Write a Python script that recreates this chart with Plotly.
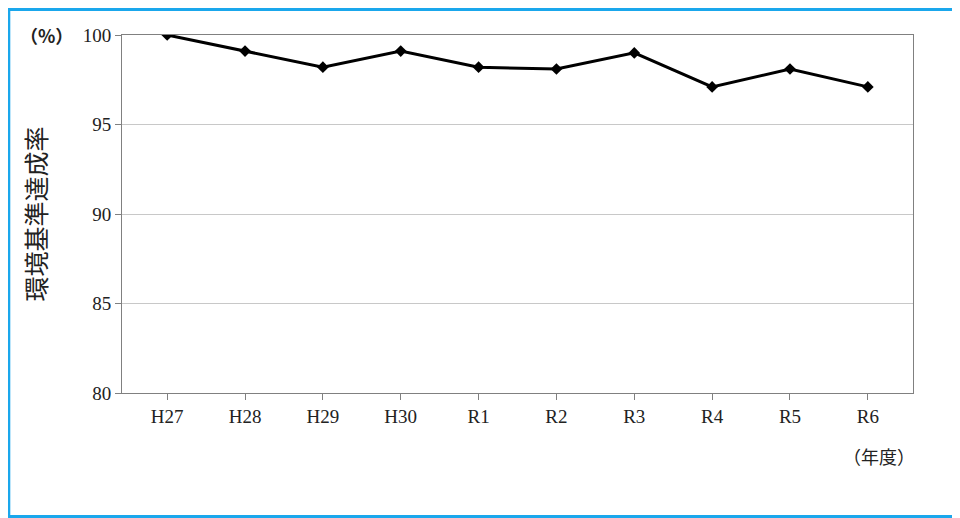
import plotly.graph_objects as go

years = ["H27","H28","H29","H30","R1","R2","R3","R4","R5","R6"]
rates = [100, 99.1, 98.2, 99.1, 98.2, 98.1, 99.0, 97.1, 98.1, 97.1]
y_ticks = [80, 85, 90, 95, 100]

fig = go.Figure(go.Scatter(x=years, y=rates, mode="lines+markers",
    line=dict(color="black", width=3),
    marker=dict(symbol="diamond", size=9, color="black")))

serif = "Liberation Serif"
W, H = 952, 510
L, T, R, B = 114, 27, 47, 125
pw, ph = W - L - R, H - T - B
fig.update_layout(
    width=W, height=H, paper_bgcolor="white", plot_bgcolor="white",
    margin=dict(l=L, r=R, t=T, b=B), showlegend=False,
    font=dict(family=serif, size=19, color="#222"),
    xaxis=dict(showline=True, linecolor="#808080", mirror=True, ticks="outside",
               ticklen=6, tickcolor="#808080", showgrid=False,
               tickfont=dict(family=serif, size=19)),
    yaxis=dict(range=[80, 100], tickvals=y_ticks, showline=True, linecolor="#808080",
               mirror=True, ticks="outside", ticklen=6, tickcolor="#808080",
               gridcolor="#c8c8c8", tickfont=dict(family=serif, size=19),
               title=dict(text="環境基準達成率", font=dict(family="Noto Sans CJK JP", size=25), standoff=28)),
    shapes=[dict(type="rect", xref="paper", yref="paper", x0=-L/pw+0.001, x1=1+R/pw-0.002,
                 y0=-B/ph+0.004, y1=1+T/ph-0.004, line=dict(color="#1aa7ec", width=3))],
    annotations=[
        dict(text="<b>（%）</b>", xref="paper", yref="paper", x=-0.06, y=1, xanchor="right", yanchor="middle",
             showarrow=False, font=dict(family="Noto Sans CJK JP", size=18, color="#222")),
        dict(text="（年度）", xref="paper", yref="paper", x=1.005, y=-0.135, xanchor="right", yanchor="top",
             showarrow=False, font=dict(family="Noto Sans CJK JP", size=18, color="#222")),
    ],
)
fig.write_html("out.html")
